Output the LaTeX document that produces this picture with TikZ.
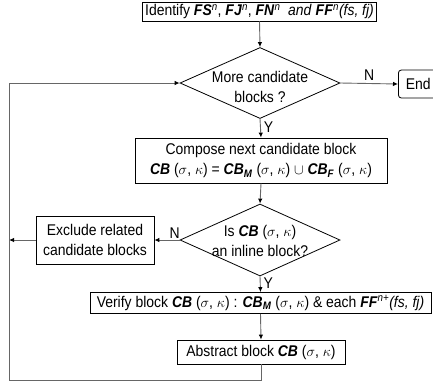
\documentclass[tikz,border=0pt]{standalone}
\usepackage{fontspec}
\setmainfont{Liberation Sans}[FakeStretch=0.9]
\usetikzlibrary{shapes.geometric,arrows.meta}
\newcommand{\bfit}[1]{\textbf{\textit{#1}}}
\newcommand{\sk}{($\sigma$, $\kappa$)}
\begin{document}
\begin{tikzpicture}[x=1pt,y=-1pt,
  font=\fontsize{15.5}{20}\selectfont,
  box/.style={draw, line width=0.8pt, inner sep=0pt, align=center},
  dia/.style={draw, diamond, inner sep=0pt, minimum width=160pt, minimum height=71pt, line width=0.8pt},
  txt/.style={inner sep=0pt, align=center},
  flow/.style={draw=black!60, line width=0.9pt, -{Latex[length=5pt,width=4.5pt,color=black]}},
  plain/.style={draw=black!60, line width=0.9pt},
  lbl/.style={inner sep=0pt}]
\useasboundingbox (0,0) rectangle (433,384);

% process steps
\node[box, inner xsep=3pt, minimum width=231pt, minimum height=19pt] (ident) at (259.5,11.5)
  {Identify \bfit{FS}\textsuperscript{\textit{n}}, \bfit{FJ}\textsuperscript{\textit{n}}, \bfit{FN}\textsuperscript{\textit{n}}\ \ \textit{and} \bfit{FF}\textsuperscript{\textit{n}}\textit{(fs, fj)}};

\node[dia] (more) at (260,83) {};
\node[txt] (moretxt) at (260,87) {More candidate\\blocks ?};

\node[box, rounded corners=3pt, minimum width=48pt, minimum height=28pt, anchor=west] (end) at (398,84) {\ End\hspace{12pt}};

\node[box, minimum width=252pt, minimum height=45pt] (compose) at (261,160.5)
  {Compose next candidate block\\
   \bfit{CB} \sk{} = \bfit{CB}\textsubscript{\bfit{M}} \sk{} $\cup$ \bfit{CB}\textsubscript{\bfit{F}} \sk};

\node[dia, minimum height=72pt] (inline) at (260,240) {};
\node[txt] (inlinetxt) at (260,241) {Is \bfit{CB} \sk\\an inline block?};

\node[box, minimum width=118pt, minimum height=48pt] (excl) at (95,240)
  {Exclude related\\candidate blocks};

\node[box, minimum width=341pt, minimum height=21pt] (verify) at (260.5,303)
  {Verify block \bfit{CB} \sk{} : \bfit{CB}\textsubscript{\bfit{M}} \sk{} \& each \bfit{FF}\textsuperscript{\textit{n+}}\textit{(fs, fj)}};

\node[box, minimum width=168pt, minimum height=24pt] (abstr) at (261,352)
  {Abstract block \bfit{CB} \sk};

% loop-back corners
\coordinate (loopA) at (261,380);
\coordinate (loopB) at (9,380);
\coordinate (loopC) at (9,83);
\coordinate (exclOut) at (9,240);

% connectors
\draw[flow] (ident.south) -- (more.north);
\draw[flow] (more.east) -- node[lbl, above=3pt] (nA) {N} (end.west);
\draw[flow] (more.south) -- node[lbl, right=3pt, pos=0.45] (yA) {Y} (compose.north);
\draw[flow] (compose.south) -- (inline.north);
\draw[flow] (inline.west) -- node[lbl, above=1pt, pos=0.2] (nB) {N} (excl.east);
\draw[flow] (excl.west) -- (exclOut);
\draw[flow] (inline.south) -- node[lbl, right=3pt, pos=0.45] (yB) {Y} (verify.north);
\draw[flow] (verify.south) -- (abstr.north);
\draw[plain] (abstr.south) -- (loopA) -- (loopB) -- (loopC);
\draw[flow] (loopC) -- (more.west);
\end{tikzpicture}
\end{document}
